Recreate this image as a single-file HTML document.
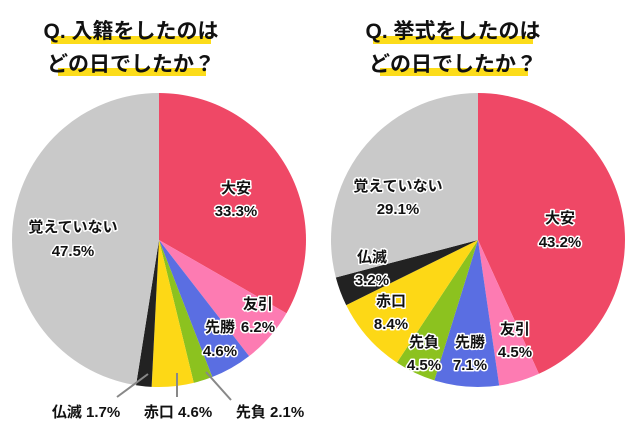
<!DOCTYPE html>
<html><head><meta charset="utf-8"><style>
body{margin:0;background:#fff;}
svg text{font-family:"Liberation Sans","Noto Sans CJK JP",sans-serif;font-weight:bold;}
.t{font-size:21px;fill:#111;}
.l{font-size:15px;fill:#111;stroke:#fff;stroke-width:3px;paint-order:stroke;stroke-linejoin:round;text-anchor:middle;}
.o{font-size:15px;fill:#111;text-anchor:middle;}
</style></head><body>
<svg id="c" width="640" height="440">
<rect x="51" y="36" width="160" height="8" fill="#fcdc1a"/>
<rect x="58" y="68" width="148" height="8" fill="#fcdc1a"/>
<rect x="373" y="36" width="160" height="8" fill="#fcdc1a"/>
<rect x="380" y="68" width="148" height="8" fill="#fcdc1a"/>
<text class="t" x="131" y="38" text-anchor="middle">Q. 入籍をしたのは</text>
<text class="t" x="131" y="71" text-anchor="middle">どの日でしたか？</text>
<text class="t" x="453" y="38" text-anchor="middle">Q. 挙式をしたのは</text>
<text class="t" x="453" y="71" text-anchor="middle">どの日でしたか？</text>
<g id="p1"></g><g id="p2"></g>
<g id="labels"></g>
</svg>
<script>
const categories=["大安","友引","先勝","先負","赤口","仏滅","覚えていない"];
const colors=["#ef4866","#fd7bb2","#5a6ee2","#8cc21f","#fdd816","#222222","#c9c9c9"];
const nyusekiValues=[33.3,6.2,4.6,2.1,4.6,1.7,47.5];
const kyoshikiValues=[43.2,4.5,7.1,4.5,8.4,3.2,29.1];
const NS="http://www.w3.org/2000/svg";
function pie(g,cx,cy,r,vals,name){
  const tot=vals.reduce((a,b)=>a+b,0);let a0=0;
  vals.forEach((v,i)=>{
    const a1=a0+v/tot*2*Math.PI;
    const x0=cx+r*Math.sin(a0),y0=cy-r*Math.cos(a0),x1=cx+r*Math.sin(a1),y1=cy-r*Math.cos(a1);
    const p=document.createElementNS(NS,"path");
    p.setAttribute("d",`M${cx},${cy}L${x0},${y0}A${r},${r} 0 ${a1-a0>Math.PI?1:0} 1 ${x1},${y1}Z`);
    p.setAttribute("fill",colors[i]);
    
    
    g.appendChild(p);a0=a1;
  });
}
pie(document.getElementById("p1"),159,240,147,nyusekiValues,"nyuseki");
pie(document.getElementById("p2"),478,240,147,kyoshikiValues,"kyoshiki");
const L=document.getElementById("labels");
function txt(x,y,s,cls,name){const t=document.createElementNS(NS,"text");t.setAttribute("x",x);t.setAttribute("y",y);t.setAttribute("class",cls);t.textContent=s;


L.appendChild(t);}
function line(x1,y1,x2,y2){const l=document.createElementNS(NS,"line");l.setAttribute("x1",x1);l.setAttribute("y1",y1);l.setAttribute("x2",x2);l.setAttribute("y2",y2);l.setAttribute("stroke","#888");l.setAttribute("stroke-width","2");


L.appendChild(l);}
const f=v=>v.toFixed(1)+"%";
// left pie labels
txt(236,193,categories[0],"l","label-l-taian");txt(236,216,f(nyusekiValues[0]),"l","value-l-taian");
txt(258,309,categories[1],"l","label-l-tomobiki");txt(258,332,f(nyusekiValues[1]),"l","value-l-tomobiki");
txt(220,332,categories[2],"l","label-l-sensho");txt(220,356,f(nyusekiValues[2]),"l","value-l-sensho");
txt(73,232,categories[6],"l","label-l-oboe");txt(73,256,f(nyusekiValues[6]),"l","value-l-oboe");
line(148,374,117,397);line(177,373,177,397);line(206,372,231,400);
txt(86,417,categories[5]+" "+f(nyusekiValues[5]),"o","label-l-butsumetsu");
txt(178,417,categories[4]+" "+f(nyusekiValues[4]),"o","label-l-shakko");
txt(270,417,categories[3]+" "+f(nyusekiValues[3]),"o","label-l-senbu");
// right pie labels
txt(560,223,categories[0],"l","label-r-taian");txt(560,247,f(kyoshikiValues[0]),"l","value-r-taian");
txt(515,334,categories[1],"l","label-r-tomobiki");txt(515,357,f(kyoshikiValues[1]),"l","value-r-tomobiki");
txt(470,347,categories[2],"l","label-r-sensho");txt(470,370,f(kyoshikiValues[2]),"l","value-r-sensho");
txt(424,347,categories[3],"l","label-r-senbu");txt(424,370,f(kyoshikiValues[3]),"l","value-r-senbu");
txt(391,306,categories[4],"l","label-r-shakko");txt(391,329,f(kyoshikiValues[4]),"l","value-r-shakko");
txt(372,262,categories[5],"l","label-r-butsumetsu");txt(372,285,f(kyoshikiValues[5]),"l","value-r-butsumetsu");
txt(398,191,categories[6],"l","label-r-oboe");txt(398,214,f(kyoshikiValues[6]),"l","value-r-oboe");
</script>
</body></html>
